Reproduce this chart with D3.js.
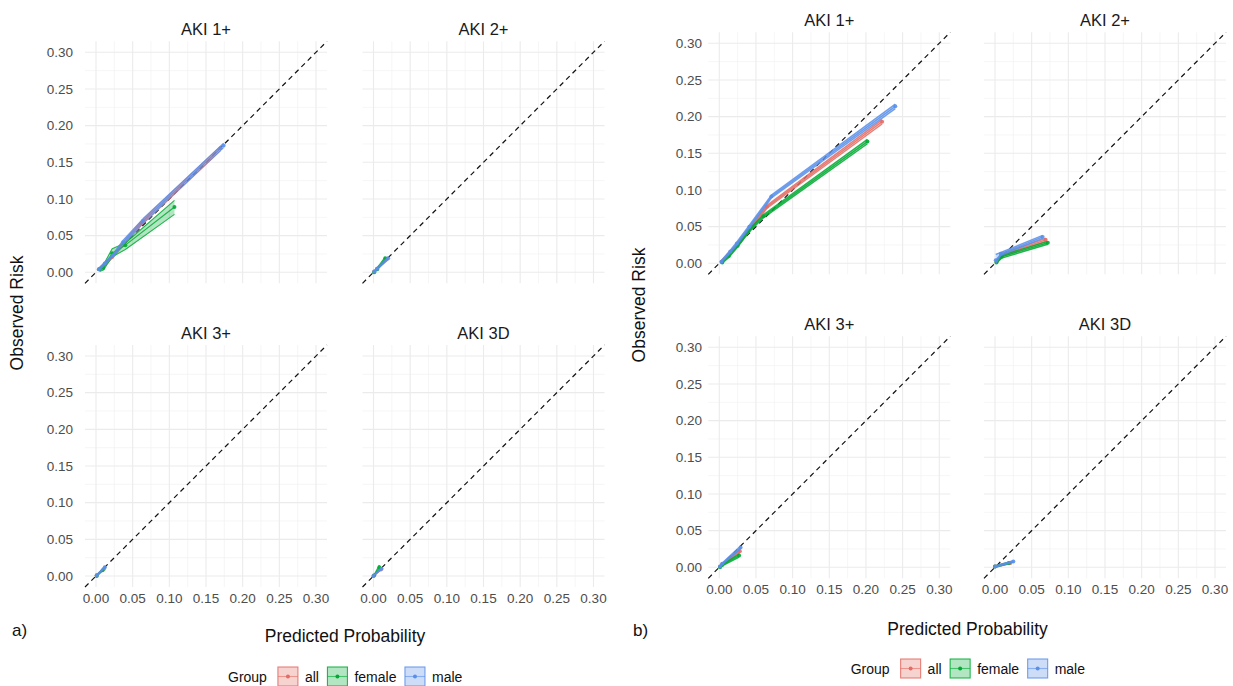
<!DOCTYPE html>
<html>
<head>
<meta charset="utf-8">
<script src="https://cdn.jsdelivr.net/npm/d3@7"></script>
<style>
  body { margin: 0; background: #fff; }
  text { font-family: "Liberation Sans", Arial, Helvetica, sans-serif; }
</style>
</head>
<body>
<div id="chart"></div>
<script>
var facets = ['AKI 1+', 'AKI 2+', 'AKI 3+', 'AKI 3D'];
var groups = ['all', 'female', 'male'];
var groupColors = ['#F8766D', '#00BA38', '#619CFF'];
var tickValues = [0, 0.05, 0.10, 0.15, 0.20, 0.25, 0.30];
var minorValues = [0.025, 0.075, 0.125, 0.175, 0.225, 0.275];

// rows: group, predicted, observed, lower, upper
var aAki1 = [
	['all', 0.004, 0.004, 0.002, 0.006], ['all', 0.012, 0.011, 0.009, 0.013], ['all', 0.022, 0.021, 0.019, 0.023],
	['all', 0.038, 0.040, 0.037, 0.043], ['all', 0.062, 0.067, 0.064, 0.070], ['all', 0.170, 0.169, 0.166, 0.172],
	['female', 0.005, 0.004, 0.001, 0.006], ['female', 0.010, 0.006, 0.003, 0.010], ['female', 0.022, 0.026, 0.021, 0.032],
	['female', 0.040, 0.037, 0.031, 0.040], ['female', 0.107, 0.089, 0.079, 0.098],
	['male', 0.004, 0.004, 0.002, 0.006], ['male', 0.012, 0.012, 0.010, 0.014], ['male', 0.023, 0.023, 0.021, 0.025],
	['male', 0.037, 0.041, 0.038, 0.044], ['male', 0.064, 0.070, 0.067, 0.073], ['male', 0.174, 0.173, 0.170, 0.176]
];
var aAki2 = [
	['all', 0.001, 0.001, 0.000, 0.002], ['all', 0.005, 0.005, 0.004, 0.006], ['all', 0.018, 0.018, 0.016, 0.020],
	['female', 0.001, 0.000, 0.000, 0.001], ['female', 0.005, 0.004, 0.003, 0.006], ['female', 0.016, 0.019, 0.016, 0.021],
	['male', 0.001, 0.001, 0.000, 0.002], ['male', 0.005, 0.005, 0.004, 0.007], ['male', 0.020, 0.019, 0.017, 0.021]
];
var aAki3 = [
	['all', 0.001, 0.001, 0.000, 0.002], ['all', 0.011, 0.010, 0.009, 0.011],
	['female', 0.001, 0.000, 0.000, 0.001], ['female', 0.009, 0.008, 0.007, 0.009],
	['male', 0.001, 0.001, 0.000, 0.002], ['male', 0.012, 0.012, 0.011, 0.013]
];
var aAki3d = [
	['all', 0.000, 0.000, 0.000, 0.001], ['all', 0.010, 0.009, 0.008, 0.010],
	['female', 0.001, 0.001, 0.000, 0.002], ['female', 0.008, 0.012, 0.009, 0.015],
	['male', 0.000, 0.000, 0.000, 0.001], ['male', 0.011, 0.010, 0.009, 0.011]
];

var bAki1 = [
	['all', 0.003, 0.002, 0.001, 0.004], ['all', 0.012, 0.011, 0.009, 0.013], ['all', 0.024, 0.024, 0.022, 0.026],
	['all', 0.038, 0.042, 0.040, 0.044], ['all', 0.065, 0.077, 0.075, 0.079], ['all', 0.222, 0.193, 0.190, 0.196],
	['female', 0.004, 0.001, 0.000, 0.003], ['female', 0.013, 0.010, 0.008, 0.012], ['female', 0.025, 0.024, 0.022, 0.026],
	['female', 0.040, 0.044, 0.042, 0.046], ['female', 0.060, 0.064, 0.062, 0.066], ['female', 0.202, 0.166, 0.163, 0.169],
	['male', 0.003, 0.002, 0.001, 0.004], ['male', 0.015, 0.016, 0.014, 0.018], ['male', 0.024, 0.027, 0.025, 0.029],
	['male', 0.041, 0.050, 0.048, 0.052], ['male', 0.071, 0.091, 0.089, 0.093], ['male', 0.240, 0.214, 0.211, 0.217]
];
var bAki2 = [
	['all', 0.002, 0.002, 0.000, 0.004], ['all', 0.009, 0.011, 0.009, 0.013], ['all', 0.069, 0.032, 0.030, 0.034],
	['female', 0.002, 0.001, 0.000, 0.003], ['female', 0.009, 0.009, 0.007, 0.011], ['female', 0.072, 0.028, 0.026, 0.030],
	['male', 0.001, 0.004, 0.000, 0.012], ['male', 0.008, 0.013, 0.011, 0.015], ['male', 0.065, 0.036, 0.034, 0.038]
];
var bAki3 = [
	['all', 0.001, 0.001, 0.000, 0.002], ['all', 0.004, 0.004, 0.003, 0.005], ['all', 0.028, 0.022, 0.020, 0.024],
	['female', 0.001, 0.000, 0.000, 0.001], ['female', 0.004, 0.003, 0.002, 0.004], ['female', 0.027, 0.016, 0.014, 0.018],
	['male', 0.001, 0.001, 0.000, 0.002], ['male', 0.004, 0.005, 0.004, 0.006], ['male', 0.029, 0.027, 0.025, 0.029]
];
var bAki3d = [
	['all', 0.000, 0.001, 0.000, 0.002], ['all', 0.021, 0.006, 0.005, 0.007],
	['female', 0.000, 0.001, 0.000, 0.002], ['female', 0.019, 0.006, 0.005, 0.007],
	['male', 0.000, 0.001, 0.000, 0.002], ['male', 0.025, 0.008, 0.007, 0.009]
];

var width = 1233, height = 686;
var panelSize = 242;
var domain = [-0.015, 0.315];

var svg = d3.select('#chart').append('svg')
	.attr('width', width).attr('height', height)
	.style('background', '#fff');

var color = d3.scaleOrdinal().domain(groups).range(groupColors);

var plots = [
	{
		tag: 'a)', data: [aAki1, aAki2, aAki3, aAki3d],
		cols: [85, 362.5], rows: [41.3, 345], yLabelX: 73, lineWidth: 1.1,
		tagPos: [12, 636], xTitle: [345, 642], yTitle: [23, 313],
		legend: { x: 228, y: 667 }
	},
	{
		tag: 'b)', data: [bAki1, bAki2, bAki3, bAki3d],
		cols: [708.3, 984], rows: [32.3, 336.3], yLabelX: 702, lineWidth: 1.4,
		tagPos: [633, 636], xTitle: [967.5, 635], yTitle: [645, 305],
		legend: { x: 850.7, y: 659 }
	}
];

plots.forEach(function (p) {
	facets.forEach(function (name, i) {
		var col = i % 2, row = Math.floor(i / 2);
		var left = p.cols[col], top = p.rows[row];
		var x = d3.scaleLinear().domain(domain).range([left, left + panelSize]);
		var y = d3.scaleLinear().domain(domain).range([top + panelSize, top]);
		var g = svg.append('g').attr('class', 'facet');

		// grid
		g.selectAll('.minor-v').data(minorValues).enter().append('line')
			.attr('x1', function (d) { return x(d); }).attr('x2', function (d) { return x(d); })
			.attr('y1', top).attr('y2', top + panelSize)
			.attr('stroke', '#f0f0f0').attr('stroke-width', 0.6);
		g.selectAll('.minor-h').data(minorValues).enter().append('line')
			.attr('y1', function (d) { return y(d); }).attr('y2', function (d) { return y(d); })
			.attr('x1', left).attr('x2', left + panelSize)
			.attr('stroke', '#f0f0f0').attr('stroke-width', 0.6);
		g.selectAll('.major-v').data(tickValues).enter().append('line')
			.attr('x1', function (d) { return x(d); }).attr('x2', function (d) { return x(d); })
			.attr('y1', top).attr('y2', top + panelSize)
			.attr('stroke', '#ebebeb').attr('stroke-width', 1.1);
		g.selectAll('.major-h').data(tickValues).enter().append('line')
			.attr('y1', function (d) { return y(d); }).attr('y2', function (d) { return y(d); })
			.attr('x1', left).attr('x2', left + panelSize)
			.attr('stroke', '#ebebeb').attr('stroke-width', 1.1);

		// reference line
		g.append('line')
			.attr('x1', x(domain[0])).attr('y1', y(domain[0]))
			.attr('x2', x(domain[1])).attr('y2', y(domain[1]))
			.attr('stroke', '#111').attr('stroke-width', 1.2)
			.attr('stroke-dasharray', '5,4');

		// series
		var rows = p.data[i];
		groups.forEach(function (grp) {
			var pts = rows.filter(function (r) { return r[0] === grp; });
			var c = d3.color(color(grp)).darker(0.25).formatHex();
			var area = d3.area()
				.x(function (d) { return x(d[1]); })
				.y0(function (d) { return y(d[3]); })
				.y1(function (d) { return y(d[4]); });
			g.append('path').datum(pts).attr('d', area)
				.attr('fill', c).attr('fill-opacity', 0.3).attr('stroke', 'none');
			var lo = d3.line().x(function (d) { return x(d[1]); }).y(function (d) { return y(d[3]); });
			var hi = d3.line().x(function (d) { return x(d[1]); }).y(function (d) { return y(d[4]); });
			var mid = d3.line().x(function (d) { return x(d[1]); }).y(function (d) { return y(d[2]); });
			[lo, hi, mid].forEach(function (fn) {
				g.append('path').datum(pts).attr('d', fn)
					.attr('fill', 'none').attr('stroke', c).attr('stroke-opacity', 0.85)
					.attr('stroke-width', p.lineWidth).attr('stroke-linejoin', 'round');
			});
			g.selectAll(null).data(pts).enter().append('circle')
				.attr('cx', function (d) { return x(d[1]); })
				.attr('cy', function (d) { return y(d[2]); })
				.attr('r', 2).attr('fill', c).attr('fill-opacity', 0.9);
		});

		// strip title
		g.append('text')
			.attr('x', left + panelSize / 2).attr('y', top - 6.5)
			.attr('text-anchor', 'middle').attr('font-size', 16.5).attr('fill', '#1a1a1a')
			.text(name);

		// tick labels
		if (col === 0) {
			g.selectAll('.ylab').data(tickValues).enter().append('text')
				.attr('x', p.yLabelX).attr('y', function (d) { return y(d) + 4.6; })
				.attr('text-anchor', 'end').attr('font-size', 13.5).attr('fill', '#4d4d4d')
				.text(d3.format('.2f'));
		}
		if (row === 1) {
			g.selectAll('.xlab').data(tickValues).enter().append('text')
				.attr('x', function (d) { return x(d); }).attr('y', top + panelSize + 16)
				.attr('text-anchor', 'middle').attr('font-size', 13.5).attr('fill', '#4d4d4d')
				.text(d3.format('.2f'));
		}
	});

	// axis titles
	svg.append('text').attr('x', p.xTitle[0]).attr('y', p.xTitle[1])
		.attr('text-anchor', 'middle').attr('font-size', 17.5).attr('fill', '#111')
		.text('Predicted Probability');
	svg.append('text')
		.attr('transform', 'translate(' + p.yTitle[0] + ',' + p.yTitle[1] + ') rotate(-90)')
		.attr('text-anchor', 'middle').attr('font-size', 17.5).attr('fill', '#111')
		.text('Observed Risk');
	svg.append('text').attr('x', p.tagPos[0]).attr('y', p.tagPos[1])
		.attr('font-size', 17).attr('fill', '#111').text(p.tag);

	// legend
	var lg = svg.append('g');
	var cx = p.legend.x, keyTop = p.legend.y, keyW = 20, keyH = 19;
	var t = lg.append('text').attr('x', cx).attr('y', keyTop + keyH / 2 + 5)
		.attr('font-size', 14).attr('fill', '#111').text('Group');
	cx += t.node().getComputedTextLength() + 11;
	groups.forEach(function (grp) {
		var c = d3.color(color(grp)).darker(0.25).formatHex();
		lg.append('rect').attr('x', cx).attr('y', keyTop).attr('width', keyW).attr('height', keyH)
			.attr('fill', c).attr('fill-opacity', 0.3).attr('stroke', c).attr('stroke-opacity', 0.85)
			.attr('stroke-width', 1.1);
		lg.append('line').attr('x1', cx).attr('x2', cx + keyW)
			.attr('y1', keyTop + keyH / 2).attr('y2', keyTop + keyH / 2)
			.attr('stroke', c).attr('stroke-opacity', 0.6).attr('stroke-width', 1.1);
		lg.append('circle').attr('cx', cx + keyW / 2).attr('cy', keyTop + keyH / 2)
			.attr('r', 2).attr('fill', c);
		cx += keyW + 7;
		var lt = lg.append('text').attr('x', cx).attr('y', keyTop + keyH / 2 + 5)
			.attr('font-size', 14).attr('fill', '#111').text(grp);
		cx += lt.node().getComputedTextLength() + 8.5;
	});
});
</script>
</body>
</html>
